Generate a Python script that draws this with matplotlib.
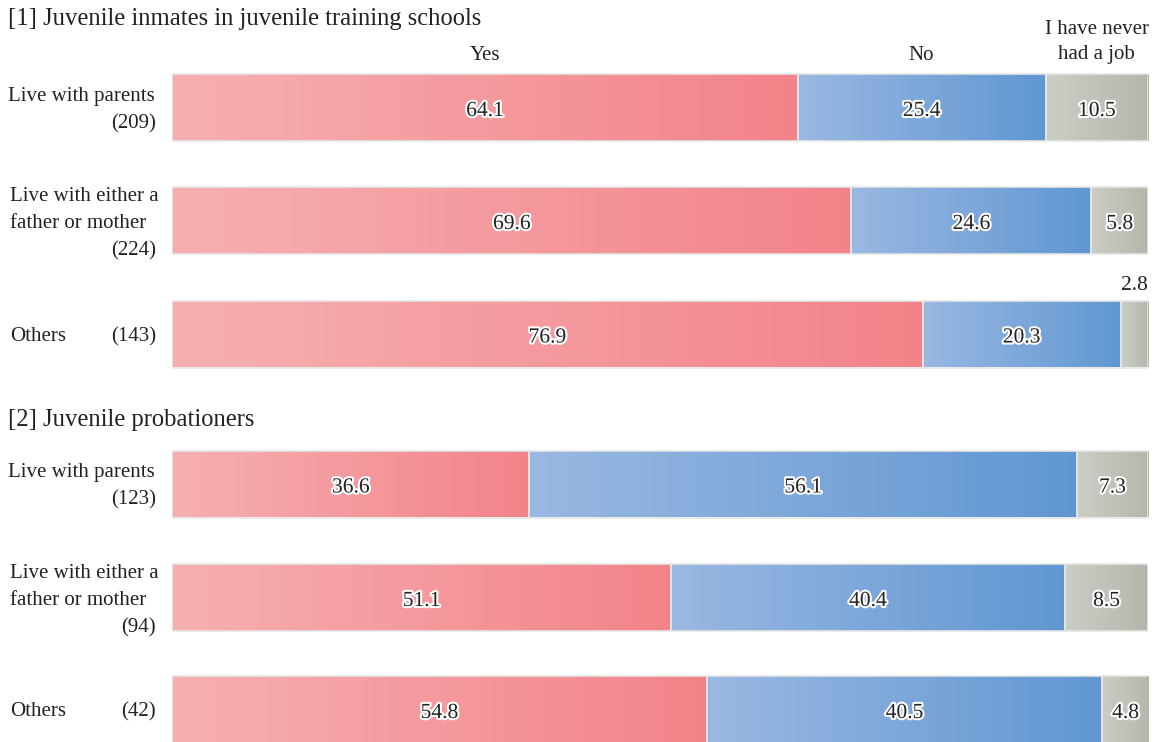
import matplotlib
matplotlib.use("Agg")
import matplotlib.pyplot as plt
import matplotlib.patheffects as pe
import numpy as np
from matplotlib.colors import LinearSegmentedColormap

plt.rcParams['font.family'] = ['Liberation Serif', 'DejaVu Serif']

section_titles = ["[1] Juvenile inmates in juvenile training schools", "[2] Juvenile probationers"]
categories = ["Live with parents", "Live with either a\nfather or mother", "Others"]
counts_1 = [209, 224, 143]
counts_2 = [123, 94, 42]
series_names = ["Yes", "No", "I have never\nhad a job"]
yes_1 = [64.1, 69.6, 76.9]
no_1 = [25.4, 24.6, 20.3]
never_1 = [10.5, 5.8, 2.8]
yes_2 = [36.6, 51.1, 54.8]
no_2 = [56.1, 40.4, 40.5]
never_2 = [7.3, 8.5, 4.8]

W, H = 1157, 742
fig = plt.figure(figsize=(W / 100, H / 100), dpi=100)
x0, x1 = 172, 1148
ax = fig.add_axes([x0 / W, 0, (x1 - x0) / W, 1])
ax.set_xlim(0, 100)
ax.set_ylim(H, 0)
ax.axis('off')

grads = [("#f7b0b2", "#f28389"), ("#9ab8e2", "#6097d2"), ("#cbcec6", "#b3b7ab")]
cmaps = [LinearSegmentedColormap.from_list(f"g{i}", g) for i, g in enumerate(grads)]
grad_img = np.linspace(0, 1, 256).reshape(1, -1)

row_y = [[107.5, 220.5, 334], [484, 597.5, 709.5]]
bar_h = 67
title_y = [19, 420]
FS = 15
TXT = '#222222'
DY = 2.5  # text baseline nudge (pixels)

data = [(yes_1, no_1, never_1, counts_1), (yes_2, no_2, never_2, counts_2)]


def px_to_x(px):
    return (px - x0) / (x1 - x0) * 100


def label(xpx, y, s, ha):
    ax.text(px_to_x(xpx), y + DY, s, ha=ha, va='center', fontsize=FS, color=TXT, clip_on=False)


for s, (yes, no, never, counts) in enumerate(data):
    ax.text(px_to_x(8), title_y[s], section_titles[s], fontsize=17.7, va='center', ha='left',
            color=TXT, clip_on=False)
    for r in range(3):
        yc = row_y[s][r]
        left = 0.0
        for k, vals in enumerate([yes, no, never]):
            v = vals[r]
            rect = ax.barh(yc, v, left=left, height=bar_h, color='none',
                           edgecolor='#e6e6e6', linewidth=1.2, zorder=3)[0]
            im = ax.imshow(grad_img, cmap=cmaps[k], aspect='auto', zorder=2,
                           extent=[left, left + v, yc + bar_h / 2, yc - bar_h / 2])
            im.set_clip_path(rect)
            if v >= 4:
                ax.text(left + v / 2, yc + DY + 1.5, f"{v:.1f}", ha='center', va='center',
                        fontsize=FS + 0.5, color=TXT, zorder=4,
                        path_effects=[pe.withStroke(linewidth=3, foreground='white')])
            else:
                ax.text(left + v / 2, yc - bar_h / 2 - 15, f"{v:.1f}", ha='center', va='center',
                        fontsize=FS + 0.5, color=TXT, zorder=4)
            if s == 0 and r == 0:
                lines = series_names[k].split("\n")
                for j, ln in enumerate(reversed(lines)):
                    ax.text(left + v / 2, 55 - 26 * j, ln, ha='center', va='center',
                            fontsize=FS, color=TXT)
            left += v
        cnt = f"({counts[r]})"
        if r == 2:
            label(10, yc, categories[r], 'left')
            label(156, yc, cnt, 'right')
        elif r == 0:
            label(155, yc - 13.5, categories[r], 'right')
            label(156, yc + 13.5, cnt, 'right')
        else:
            l1, l2 = categories[r].split("\n")
            label(10, yc - 26.5, l1, 'left')
            label(10, yc + 0.5, l2, 'left')
            label(156, yc + 27.5, cnt, 'right')

fig.savefig("out.png", dpi=100, facecolor='white')
